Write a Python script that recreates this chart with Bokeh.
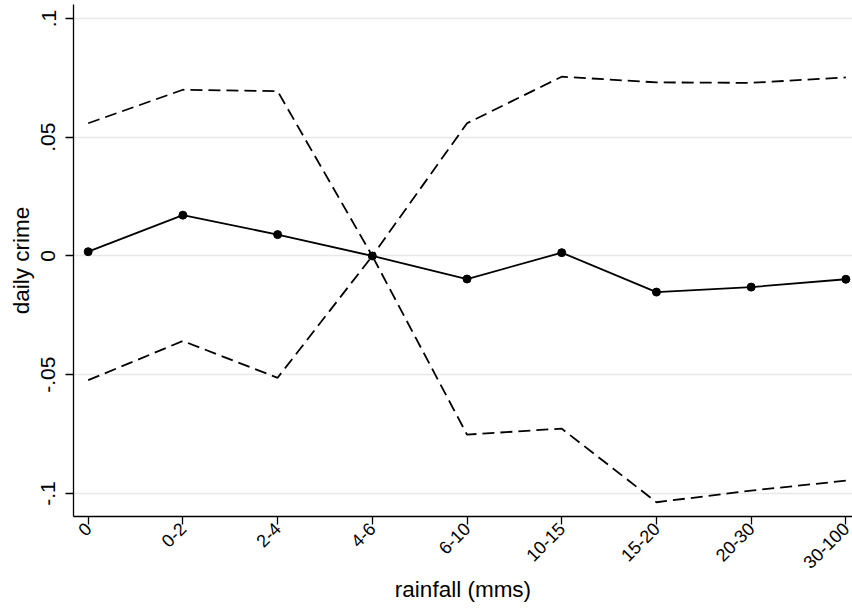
import math
from bokeh.plotting import figure
from bokeh.models import Range1d, FixedTicker, ColumnDataSource
from bokeh.embed import file_html
from bokeh.resources import INLINE

categories = ["0", "0-2", "2-4", "4-6", "6-10", "10-15", "15-20", "20-30", "30-100"]
estimate = [0.0018, 0.0172, 0.0090, 0.0, -0.0097, 0.0014, -0.0152, -0.0131, -0.0098]
upper = [0.0559, 0.0700, 0.0694, 0.0, 0.0559, 0.0755, 0.0731, 0.0729, 0.0752]
lower = [-0.0523, -0.0358, -0.0513, 0.0, -0.0752, -0.0727, -0.1037, -0.0988, -0.0946]
y_ticks = [-0.1, -0.05, 0.0, 0.05, 0.1]
y_tick_labels = ["-.1", "-.05", "0", ".05", ".1"]

xpos = list(range(len(categories)))
src = ColumnDataSource(dict(x=xpos, est=estimate, up=upper, lo=lower))

FONT = "Liberation Sans"

p = figure(width=852, height=612, output_backend="svg", toolbar_location=None,
           x_range=Range1d(-0.155, 8.07), y_range=Range1d(-0.1097, 0.1059),
           min_border_left=73, min_border_right=0, min_border_top=4, min_border_bottom=96)
p.outline_line_color = None
p.background_fill_color = "white"
p.border_fill_color = "white"

p.line("x", "up", source=src, line_color="black", line_width=1.8, line_dash="12 6")
p.line("x", "lo", source=src, line_color="black", line_width=1.8, line_dash="12 6")
p.line("x", "est", source=src, line_color="black", line_width=1.8)
p.scatter("x", "est", source=src, size=8, color="black")

p.xgrid.grid_line_color = None
p.ygrid.grid_line_color = "#e8e8e8"
p.ygrid.grid_line_width = 1.3
p.ygrid.ticker = FixedTicker(ticks=y_ticks)

p.xaxis.ticker = FixedTicker(ticks=xpos)
p.xaxis.major_label_overrides = {i: c for i, c in enumerate(categories)}
p.xaxis.major_label_orientation = math.pi / 4
p.yaxis.ticker = FixedTicker(ticks=y_ticks)
p.yaxis.major_label_overrides = {t: l for t, l in zip(y_ticks, y_tick_labels)}
p.yaxis.major_label_orientation = "vertical"

for ax in (p.xaxis, p.yaxis):
    ax.axis_line_color = "black"
    ax.axis_line_width = 1.3
    ax.major_tick_line_color = "black"
    ax.major_tick_line_width = 1.3
    ax.major_tick_out = 8
    ax.major_tick_in = 0
    ax.minor_tick_line_color = None
    ax.major_label_text_font = FONT
    ax.major_label_text_color = "black"
    ax.axis_label_text_font = FONT
    ax.axis_label_text_font_style = "normal"
    ax.axis_label_text_color = "black"
    ax.axis_label_text_font_size = "22.5px"

p.xaxis.major_label_text_font_size = "18px"
p.yaxis.major_label_text_font_size = "21px"
p.xaxis.axis_label = "rainfall (mms)"
p.yaxis.axis_label = "daily crime"
p.xaxis.axis_label_standoff = 0
p.yaxis.axis_label_standoff = 5
p.xaxis.major_label_standoff = 1
p.yaxis.major_label_standoff = 10

open("out.html", "w").write(file_html(p, INLINE))
